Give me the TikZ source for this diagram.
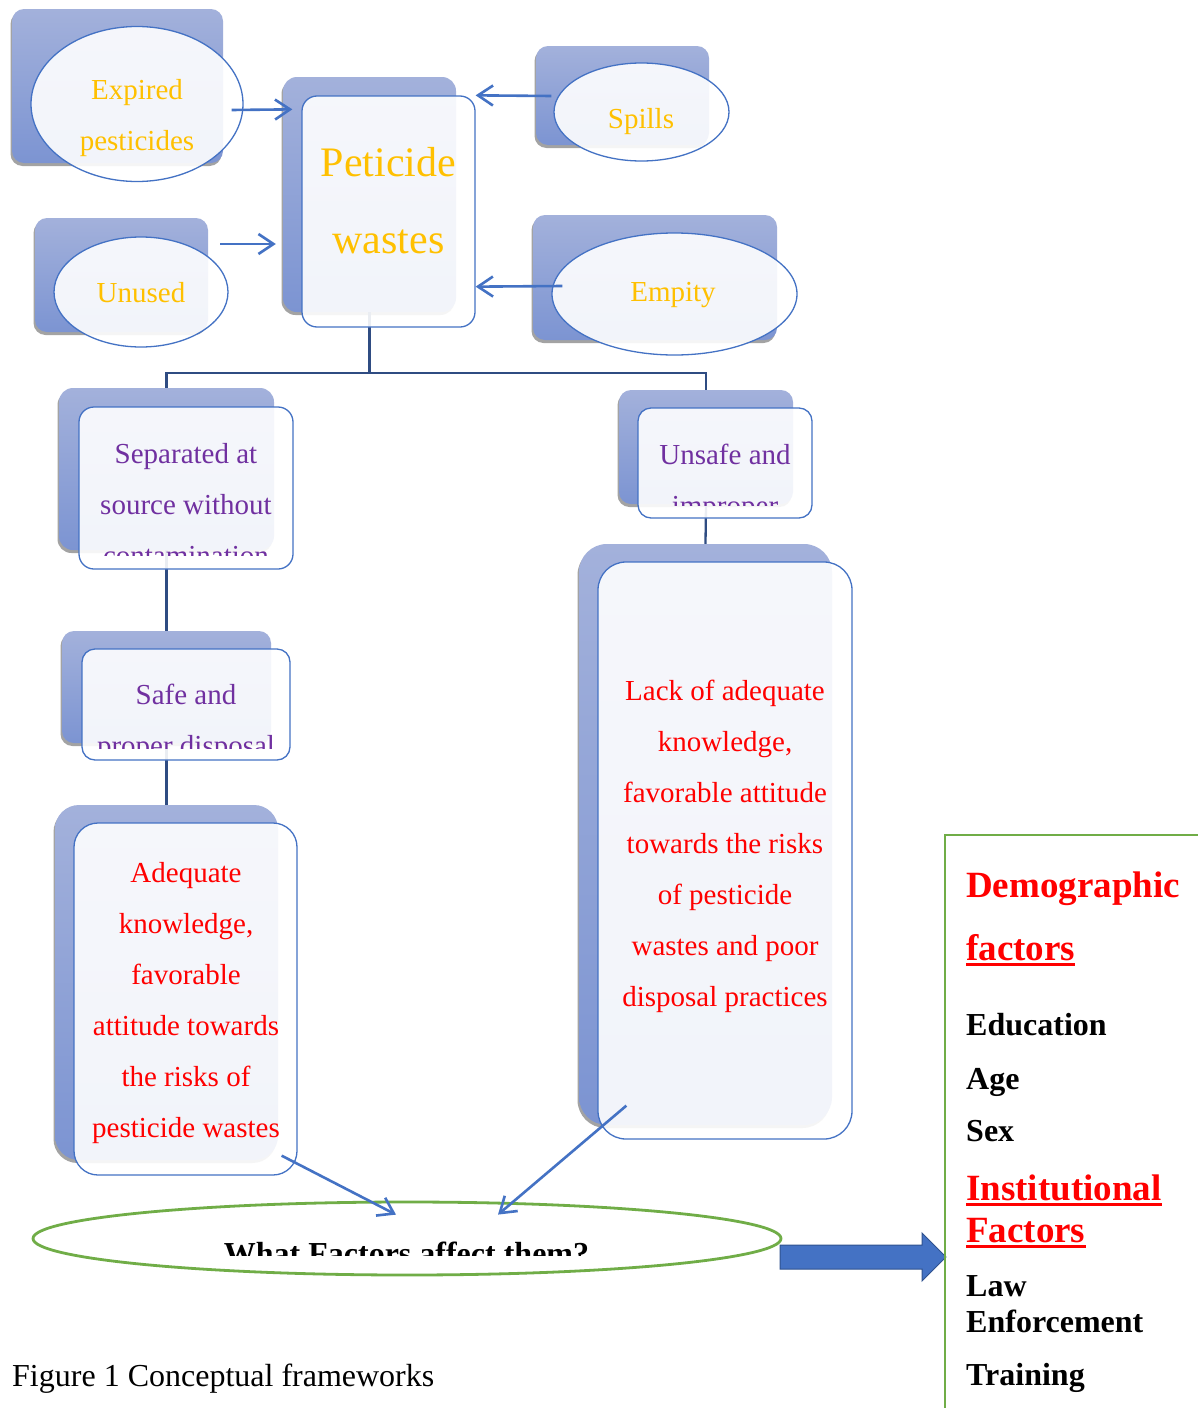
\documentclass[tikz,border=0pt]{standalone}
\usepackage{fontspec}
\setmainfont{Liberation Serif}
\usetikzlibrary{arrows.meta,shapes.geometric,shadows,calc}
\definecolor{bordblue}{HTML}{4472C4}
\definecolor{backtop}{HTML}{A3B1DB}
\definecolor{backbot}{HTML}{7C94D2}
\definecolor{connblue}{HTML}{2F4C82}
\definecolor{goldtxt}{HTML}{FFC000}
\definecolor{purptxt}{HTML}{7030A0}
\definecolor{grn}{HTML}{70AD47}
\definecolor{arrdark}{HTML}{2F528F}
\begin{document}
\begin{tikzpicture}[x=1pt,y=-1pt,
  backbox/.style={rectangle, rounded corners=#1, top color=backtop, bottom color=backbot, draw=none, inner sep=0pt,
    general shadow={fill=black!36, shadow xshift=-1.5pt, shadow yshift=-3pt}},
  frontbox/.style={rectangle, rounded corners=#1, draw=bordblue, line width=1.3pt, fill=white, fill opacity=0.9, inner sep=0pt},
  frontell/.style={ellipse, draw=bordblue, line width=1.3pt, fill=white, fill opacity=0.9, inner sep=0pt},
  conn/.style={draw=connblue, line width=2.3pt},
  arr/.style={draw=bordblue, line width=2.6pt, -{Straight Barb[length=15pt,width=20pt]}},
  txt/.style={font=\fontsize{29}{51}\selectfont, align=center, inner sep=0pt, anchor=north},
  rt/.style={anchor=base west, inner sep=0pt, font=\fontsize{32}{38}\selectfont\bfseries, text=black},
  rh/.style={anchor=base west, inner sep=0pt, font=\fontsize{37}{44}\selectfont\bfseries, text=red},
  ul/.style={draw=red, line width=3pt}
]
\useasboundingbox (0,0) rectangle (1198,1408);
\fill[white] (0,0) rectangle (1198,1408);

% ---- back boxes
\node[backbox=12pt, minimum width=211pt, minimum height=154pt] (expB) at (117.5,86) {};
\node[backbox=12pt, minimum width=173pt, minimum height=114pt] (unB) at (121.5,275) {};
\node[backbox=14pt, minimum width=173pt, minimum height=235pt] (pwB) at (369.5,194.5) {};
\node[backbox=12pt, minimum width=173pt, minimum height=99pt] (spB) at (622.5,95.5) {};
\node[backbox=12pt, minimum width=244pt, minimum height=125pt] (emB) at (655,277.5) {};
\node[backbox=14pt, minimum width=215pt, minimum height=162pt] (sepB) at (166.5,469) {};
\node[backbox=12pt, minimum width=209pt, minimum height=112pt] (safeB) at (166.5,687) {};
\node[backbox=12pt, minimum width=174pt, minimum height=114pt] (unsB) at (706,447) {};
\node[backbox=28pt, minimum width=253pt, minimum height=581pt] (lackB) at (705.5,834.5) {};
\node[backbox=24pt, minimum width=223pt, minimum height=355pt] (adqB) at (166.5,982.5) {};

% ---- tree connectors
\coordinate (jn) at (369.5,373);
\draw[conn] (pwB.south) -- (jn);
\draw[conn] (sepB.north) |- (jn) -| (unsB.north);
\draw[conn] (sepB.south) -- (safeB.north);
\draw[conn] (safeB.south) -- (adqB.north);
\draw[conn] (unsB.south) -- (lackB.north);

% ---- front shapes
\node[frontell, minimum width=212pt, minimum height=155pt] (expE) at (137,104) {};
\node[frontell, minimum width=174pt, minimum height=110pt] (unE) at (141,292) {};
\node[frontbox=15pt, minimum width=173pt, minimum height=231pt] (pwF) at (388.5,211.5) {};
\node[frontell, minimum width=175pt, minimum height=98pt] (spE) at (641.5,112) {};
\node[frontell, minimum width=245pt, minimum height=122pt] (emE) at (674.5,294) {};
\node[frontbox=15pt, minimum width=214pt, minimum height=162pt] (sepF) at (186,488) {};
\node[frontbox=13pt, minimum width=208pt, minimum height=111pt] (safeF) at (186,704.5) {};
\node[frontbox=13pt, minimum width=174pt, minimum height=110pt] (unsF) at (725,463) {};
\node[frontbox=28pt, minimum width=254pt, minimum height=577pt] (lackF) at (725,850.5) {};
\node[frontbox=24pt, minimum width=223pt, minimum height=352pt] (adqF) at (185.5,999) {};
\node[ellipse, draw=grn, line width=2.8pt, minimum width=748pt, minimum height=73pt, inner sep=0pt] (goal) at (407,1238.5) {};

% ---- texts
\node[txt, text=goldtxt] (expT) at (137,79) {Expired\\pesticides};
\node[txt, text=goldtxt] (unT) at (141,282) {Unused};
\node[txt, text=goldtxt, font=\fontsize{42}{77}\selectfont] (pwT) at (388.5,147) {Peticide\\wastes};
\node[txt, text=goldtxt] (spT) at (641,108) {Spills};
\node[txt, text=goldtxt] (emT) at (673,282) {Empity};
\begin{scope}
  \clip (79,407) rectangle (293,555);
  \node[txt, text=purptxt] (sepT) at (186,443) {Separated at\\source without\\contamination};
\end{scope}
\begin{scope}
  \clip (82,649) rectangle (290,748);
  \node[txt, text=purptxt] (safeT) at (186,684) {Safe and\\proper disposal};
\end{scope}
\begin{scope}
  \clip (638,408) rectangle (812,505);
  \node[txt, text=purptxt] (unsT) at (725,444) {Unsafe and\\improper};
\end{scope}
\node[txt, text=red] (lackT) at (725,680) {Lack of adequate\\knowledge,\\favorable attitude\\towards the risks\\of pesticide\\wastes and poor\\disposal practices};
\node[txt, text=red] (adqT) at (186,862) {Adequate\\knowledge,\\favorable\\attitude towards\\the risks of\\pesticide wastes};
\begin{scope}
  \clip (33,1195) rectangle (781,1255);
  \node[anchor=base, inner sep=0pt, font=\fontsize{32}{38}\selectfont\bfseries] (wfT) at (406.5,1264) {What Factors affect them?};
\end{scope}

% ---- arrows
\draw[arr] ([shift={(-12,6)}]expE.east) -- ([shift={(-9,14)}]pwF.north west);
\draw[arr] ([shift={(79,-48)}]unE.center) -- ([shift={(-7,49.5)}]pwB.west);
\draw[arr] ([shift={(-2,-16)}]spE.west) -- (pwF.north east);
\draw[arr] ([shift={(11,-8)}]emE.west) -- ([shift={(0,-41)}]pwF.south east);
\draw[arr] ([shift={(-16,-20)}]adqF.south east) -- ([shift={(-11,14)}]goal.north);
\draw[arr] ([shift={(29,-34)}]lackF.south west) -- ([shift={(91,14)}]goal.north);

% ---- block arrow
\draw[fill=bordblue, draw=arrdark, line width=1pt] (780,1245) -- (922,1245) -- (922,1233) -- (946,1257) -- (922,1281) -- (922,1269) -- (780,1269) -- cycle;

% ---- right panel
\draw[draw=grn, line width=2.5pt] (1205,835) -- (945,835) -- (945,1415);
\node[rh] (demT) at (966,897) {Demographic};
\node[rh] (facT) at (966,960) {factors};
\draw[ul] ([yshift=-4pt]facT.base west) -- ([yshift=-4pt]facT.base east);
\node[rt] (eduT) at (966,1035.5) {Education};
\node[rt] (ageT) at (966,1089.5) {Age};
\node[rt] (sexT) at (966,1141.5) {Sex};
\node[rh] (insT) at (966,1200) {Institutional};
\draw[ul] ([yshift=-4pt]insT.base west) -- ([yshift=-4pt]insT.base east);
\node[rh] (fac2T) at (966,1242) {Factors};
\draw[ul] ([yshift=-4pt]fac2T.base west) -- ([yshift=-4pt]fac2T.base east);
\node[rt] (lawT) at (966,1296.5) {Law};
\node[rt] (enfT) at (966,1332.5) {Enforcement};
\node[rt] (trT) at (966,1385.5) {Training};

% ---- caption
\node[anchor=base west, inner sep=0pt, font=\fontsize{32}{38}\selectfont] (cap) at (12,1386.5) {Figure 1 Conceptual frameworks};
\end{tikzpicture}
\end{document}
